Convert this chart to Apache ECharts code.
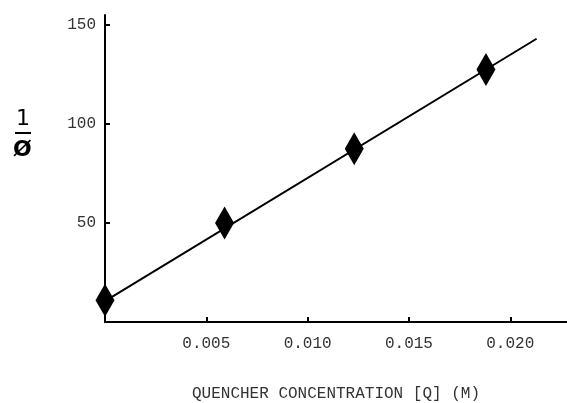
<!DOCTYPE html>
<html>
<head>
<meta charset="utf-8">
<script src="https://cdn.jsdelivr.net/npm/echarts@6/dist/echarts.min.js"></script>
<style>
html, body { margin: 0; padding: 0; background: #fff; }
#chart { width: 567px; height: 403px; }
</style>
</head>
<body>
<div id="chart"></div>
<script>
// measured points (quencher conc. in M, 1/phi)
var concX = [0, 0.0059, 0.0123, 0.0188];
var invPhi = [11, 50, 87.5, 127.5];
// least squares line drawn through them
var fitX = [0, 0.0213];
var fitY = [10.5, 143];
var xTicks = [0.005, 0.010, 0.015, 0.020];
var yTicks = [50, 100, 150];

var dom = document.getElementById('chart');
var myChart = echarts.init(dom);

var monoFont = '"Liberation Mono", "DejaVu Sans Mono", monospace';

var option = {
    animation: false,
    backgroundColor: '#fff',
    grid: {
        left: 105,
        right: 0,
        top: 15,
        bottom: 81,
        outerBoundsMode: 'none'
    },
    xAxis: {
        type: 'value',
        min: 0,
        max: 0.0228,
        name: 'QUENCHER CONCENTRATION [Q] (M)',
        nameLocation: 'middle',
        nameGap: 64,
        nameTextStyle: { fontFamily: monoFont, fontSize: 16, color: '#333' },
        axisLine: { lineStyle: { color: '#000', width: 2 } },
        axisTick: { inside: true, length: 5, lineStyle: { color: '#000', width: 2 }, customValues: xTicks },
        axisLabel: {
            customValues: xTicks,
            margin: 14,
            fontFamily: monoFont,
            fontSize: 16,
            color: '#333',
            formatter: function (v) { return v.toFixed(3); }
        },
        splitLine: { show: false }
    },
    yAxis: {
        type: 'value',
        min: 0,
        max: 155,
        axisLine: { lineStyle: { color: '#000', width: 2 } },
        axisTick: { inside: true, length: 5, lineStyle: { color: '#000', width: 2 }, customValues: yTicks },
        axisLabel: {
            customValues: yTicks,
            margin: 9,
            fontFamily: monoFont,
            fontSize: 16,
            color: '#333'
        },
        splitLine: { show: false }
    },
    graphic: [
        { type: 'text', left: 16, top: 108, style: { text: '1', font: '22px "DejaVu Sans"', fill: '#000' } },
        { type: 'rect', left: 15, top: 132, shape: { width: 16, height: 2 }, style: { fill: '#000' } },
        { type: 'text', left: 13, top: 139, style: { text: 'Ø', font: 'bold 22px "DejaVu Sans"', fill: '#000' } }
    ],
    series: [
        {
            name: 'fit',
            type: 'line',
            data: fitX.map(function (x, i) { return [x, fitY[i]]; }),
            showSymbol: false,
            lineStyle: { color: '#000', width: 2 },
            z: 2
        },
        {
            name: 'data',
            type: 'scatter',
            data: concX.map(function (x, i) { return [x, invPhi[i]]; }),
            symbol: 'diamond',
            symbolSize: [19, 33],
            itemStyle: { color: '#000', opacity: 1 },
            z: 3
        }
    ]
};

myChart.setOption(option, true);
</script>
</body>
</html>
